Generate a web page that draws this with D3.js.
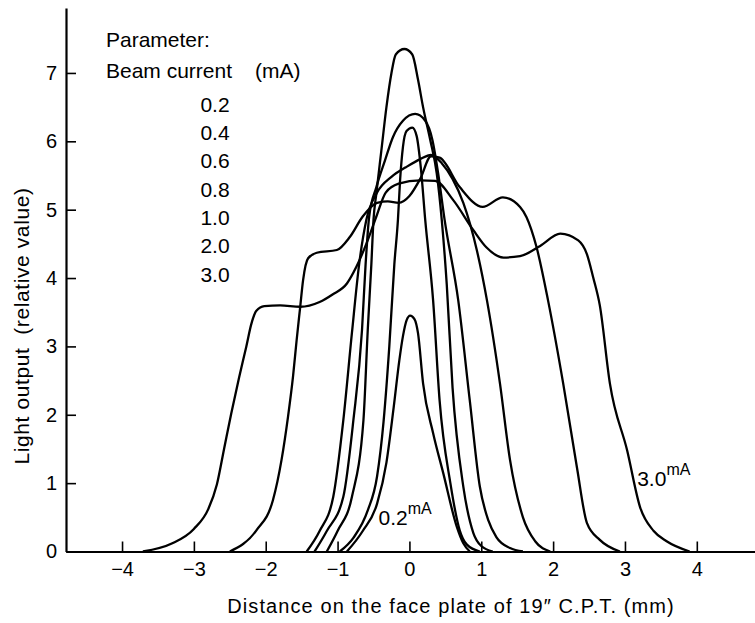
<!DOCTYPE html>
<html>
<head>
<meta charset="utf-8">
<script src="https://cdn.jsdelivr.net/npm/d3@7"></script>
<style>
  body { margin: 0; background: #fff; }
  svg { display: block; font-family: "Liberation Sans", Arial, sans-serif; }
</style>
</head>
<body>
<div id="chart"></div>
<script>
const WIDTH = 755, HEIGHT = 623;

// curves: [distance (mm), light output]
const curve02 = [[-0.87,0],[-0.65,0.3],[-0.45,0.7],[-0.32,1.3],[-0.22,2.1],[-0.14,2.8],[-0.09,3.15],[-0.04,3.38],[0.01,3.45],[0.07,3.4],[0.12,3.19],[0.19,2.46],[0.33,1.73],[0.47,1.15],[0.66,0.36],[0.75,0.12],[0.84,0]];
const curve04 = [[-0.97,0],[-0.78,0.2],[-0.58,0.6],[-0.45,1.1],[-0.36,1.9],[-0.28,3.0],[-0.21,4.2],[-0.16,4.85],[-0.13,5.43],[-0.09,5.92],[-0.04,6.15],[0.04,6.2],[0.1,6.08],[0.16,5.6],[0.22,4.85],[0.33,3.67],[0.42,2.21],[0.57,1.0],[0.7,0.31],[0.8,0.1],[0.98,0]];
const curve06 = [[-1.15,0],[-1.0,0.3],[-0.8,0.8],[-0.64,1.92],[-0.58,3.24],[-0.53,4.2],[-0.5,4.85],[-0.46,5.24],[-0.39,5.87],[-0.32,6.5],[-0.25,7.0],[-0.19,7.27],[-0.07,7.35],[0.04,7.27],[0.12,6.9],[0.19,6.5],[0.29,6.02],[0.38,5.53],[0.45,4.85],[0.52,3.9],[0.6,2.4],[0.75,0.95],[0.89,0.27],[1.0,0.08],[1.16,0]];
const curve08 = [[-1.32,0],[-1.15,0.3],[-0.92,0.8],[-0.78,1.92],[-0.66,3.24],[-0.61,4.2],[-0.56,4.9],[-0.46,5.33],[-0.34,5.72],[-0.23,6.06],[-0.09,6.3],[0.08,6.4],[0.22,6.3],[0.32,6.02],[0.4,5.53],[0.49,4.85],[0.68,3.67],[0.84,2.21],[0.98,0.95],[1.1,0.45],[1.21,0.21],[1.4,0.05],[1.58,0]];
const curve10 = [[-1.43,0],[-1.25,0.3],[-1.06,0.8],[-0.92,1.92],[-0.8,3.2],[-0.7,4.2],[-0.6,4.85],[-0.45,5.25],[-0.25,5.48],[-0.05,5.62],[0.15,5.74],[0.3,5.8],[0.45,5.68],[0.6,5.45],[0.75,5.1],[0.94,4.4],[1.08,3.67],[1.26,2.46],[1.4,1.34],[1.58,0.5],[1.75,0.15],[1.96,0]];
const curve20 = [[-2.5,0],[-2.13,0.31],[-1.9,0.75],[-1.78,1.34],[-1.69,1.97],[-1.62,2.56],[-1.57,3.09],[-1.52,3.58],[-1.48,3.97],[-1.41,4.29],[-1.29,4.37],[-1.01,4.41],[-0.83,4.6],[-0.65,4.9],[-0.45,5.1],[-0.3,5.12],[-0.15,5.1],[0,5.2],[0.15,5.45],[0.3,5.78],[0.42,5.76],[0.7,5.33],[1.02,5.04],[1.3,5.18],[1.54,5.04],[1.63,4.89],[1.77,4.45],[1.93,3.67],[2.14,2.46],[2.33,1.24],[2.47,0.42],[2.65,0.17],[2.93,0]];
const curve30 = [[-3.71,0],[-3.3,0.12],[-3.0,0.33],[-2.8,0.62],[-2.68,0.98],[-2.58,1.5],[-2.48,2.02],[-2.37,2.55],[-2.27,3.0],[-2.2,3.33],[-2.13,3.52],[-2.02,3.59],[-1.8,3.6],[-1.52,3.58],[-1.25,3.65],[-1.07,3.76],[-0.87,3.92],[-0.74,4.16],[-0.6,4.5],[-0.46,4.9],[-0.33,5.25],[-0.15,5.38],[0.15,5.43],[0.36,5.42],[0.61,5.14],[0.89,4.7],[1.07,4.45],[1.31,4.3],[1.54,4.32],[1.82,4.47],[2.1,4.65],[2.35,4.55],[2.47,4.35],[2.56,4.0],[2.65,3.6],[2.79,2.46],[3.03,1.48],[3.21,0.65],[3.4,0.3],[3.58,0.15],[3.9,0]];

const curves = [curve02, curve04, curve06, curve08, curve10, curve20, curve30];
const currents = ["0.2", "0.4", "0.6", "0.8", "1.0", "2.0", "3.0"];
const xTicks = [-4, -3, -2, -1, 0, 1, 2, 3, 4];
const yTicks = [0, 1, 2, 3, 4, 5, 6, 7];

const svg = d3.select("#chart")
  .append("svg")
  .attr("width", WIDTH)
  .attr("height", HEIGHT);

// Scales
const x = d3.scaleLinear().domain([-4.78, 4.81]).range([66, 755]);
const y = d3.scaleLinear().domain([0, 7.95]).range([551.5, 8]);

// Axes
const xAxis = svg.append("g")
  .attr("transform", `translate(0, ${y(0)})`)
  .call(d3.axisBottom(x).tickValues(xTicks).tickSizeInner(-10).tickSizeOuter(0)
    .tickPadding(10).tickFormat(d => d < 0 ? "\u2212" + Math.abs(d) : d));

const yAxis = svg.append("g")
  .attr("transform", `translate(${x(-4.78)}, 0)`)
  .call(d3.axisLeft(y).tickValues(yTicks).tickSizeInner(-10).tickSizeOuter(0).tickPadding(9));

[xAxis, yAxis].forEach(g => {
  g.select(".domain").attr("stroke", "#000").attr("stroke-width", 2.2);
  g.selectAll(".tick line").attr("stroke", "#000").attr("stroke-width", 1.6);
  g.selectAll(".tick text").attr("fill", "#000").style("font-size", "20px")
    .style("font-family", "'Liberation Sans', Arial, sans-serif");
});

// Curves
const line = d3.line()
  .x(d => x(d[0]))
  .y(d => y(d[1]))
  .curve(d3.curveMonotoneX);

svg.selectAll("path.curve")
  .data(curves)
  .join("path")
  .attr("class", "curve")
  .attr("d", line)
  .attr("fill", "none")
  .attr("stroke", "#000")
  .attr("stroke-width", 2.3)
  .attr("stroke-linejoin", "round");

// Legend block
svg.append("text")
  .attr("x", 106).attr("y", 47)
  .style("font-size", "21px")
  .text("Parameter:");

svg.append("text")
  .attr("x", 106).attr("y", 78)
  .style("font-size", "21px")
  .text("Beam current");

svg.append("text")
  .attr("x", 255).attr("y", 78)
  .style("font-size", "21px")
  .text("(mA)");

svg.selectAll("text.current")
  .data(currents)
  .join("text")
  .attr("class", "current")
  .attr("x", 215)
  .attr("y", (d, i) => 111.7 + i * 28.33)
  .attr("text-anchor", "middle")
  .style("font-size", "21px")
  .text(d => d);

// Curve labels
function curveLabel(px, py, main) {
  const t = svg.append("text")
    .attr("x", x(px)).attr("y", y(py))
    .style("font-size", "21px");
  t.append("tspan").text(main);
  t.append("tspan").attr("dy", -11).style("font-size", "16px").text("mA");
}
curveLabel(-0.43, 0.39, "0.2");
curveLabel(3.17, 0.96, "3.0");

// Axis titles
svg.append("text")
  .attr("x", 451).attr("y", 613)
  .attr("text-anchor", "middle")
  .style("font-size", "20px")
  .style("letter-spacing", "1.1px")
  .text("Distance on the face plate of 19\u2033 C.P.T. (mm)");

svg.append("text")
  .attr("transform", "rotate(-90)")
  .attr("x", -326)
  .attr("y", 29)
  .attr("text-anchor", "middle")
  .style("font-size", "21px")
  .style("letter-spacing", "0.6px")
  .attr("xml:space", "preserve")
  .text("Light output  (relative value)");
</script>
</body>
</html>
